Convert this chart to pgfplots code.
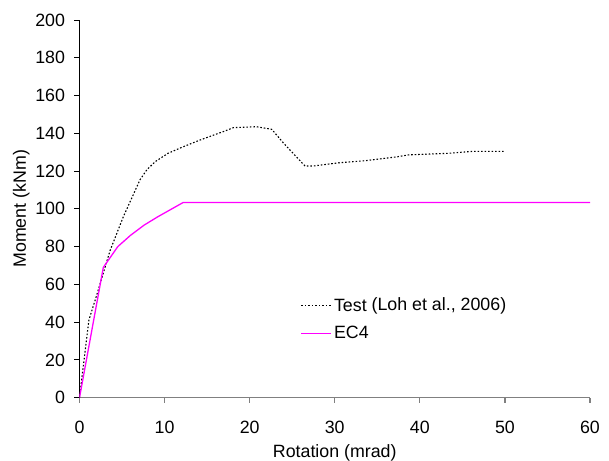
\documentclass[border=0pt]{standalone}
\usepackage{fontspec}
\setmainfont{Liberation Sans}
\usepackage{pgfplots}
\pgfplotsset{compat=1.18}
\definecolor{ecmag}{RGB}{255,0,255}
\begin{document}
\begin{tikzpicture}[font=\fontsize{17.8bp}{21bp}\selectfont]
\useasboundingbox (-79.5bp,-63.3bp) rectangle (529.5bp,397.7bp);
\begin{axis}[
    scale only axis,
    width=510.5bp, height=377.7bp,
    xmin=0, xmax=60, ymin=0, ymax=200,
    xtick={0,10,...,60}, ytick={0,20,...,200},
    axis x line*=bottom, axis y line*=left,
    axis line style={-},
    x axis line style={draw=gray, line width=1.2bp},
    y axis line style={draw=black, line width=0.9bp},
    tick align=outside, major tick length=5bp,
    x tick style={draw=gray, line width=1.2bp},
    y tick style={draw=black, line width=0.9bp},
    /pgf/number format/assume math mode=true,
    tick label style={font=\fontsize{17.8bp}{21bp}\selectfont},
    xticklabel style={anchor=north, yshift=-18bp, inner sep=0pt},
    yticklabel style={anchor=east, xshift=-6bp},
    label style={font=\fontsize{17.8bp}{21bp}\selectfont},
    xlabel style={at={(axis description cs:0.5,0)}, anchor=north, yshift=-43bp},
    ylabel style={yshift=-1bp},
    xlabel={Rotation (mrad)}, ylabel={Moment (kNm)},
    legend style={at={(0.433,0.209)}, anchor=west, draw=none, fill=none,
        inner sep=0pt, row sep=9bp, font=\fontsize{17.8bp}{21bp}\selectfont},
    legend cell align=left,
    legend image code/.code={\draw[#1] (0bp,0bp) -- (30bp,0bp);},
]
\addplot[black, line width=1.1bp, dash pattern=on 1.6bp off 1.9bp] coordinates {
(0,0) (1.1,41) (2.0,54) (3.6,78) (5.15,95.8) (6.3,107.3) (7.1,115.3)
(7.9,120.6) (8.9,125) (10.4,129.4) (12.2,132.9) (14.2,136.5) (16.9,140.9)
(18.1,143) (20.8,143.5) (22.6,142.1) (24,134.7) (26.5,122.7) (27.5,122.7)
(30.5,124.4) (33.6,125.5) (37.4,127.6) (38.7,128.6) (43.3,129.4)
(46.1,130.4) (50,130.4)};
\addlegendentry{Test \raisebox{1.5bp}{(Loh et al., 2006)}}
\addplot[ecmag, line width=1.3bp] coordinates {
(0,0) (2.8,69) (4.5,80) (6.0,86) (7.6,91.4) (9.2,95.8) (12.2,103.4) (60,103.4)};
\addlegendentry{EC4}
\end{axis}
\end{tikzpicture}
\end{document}
